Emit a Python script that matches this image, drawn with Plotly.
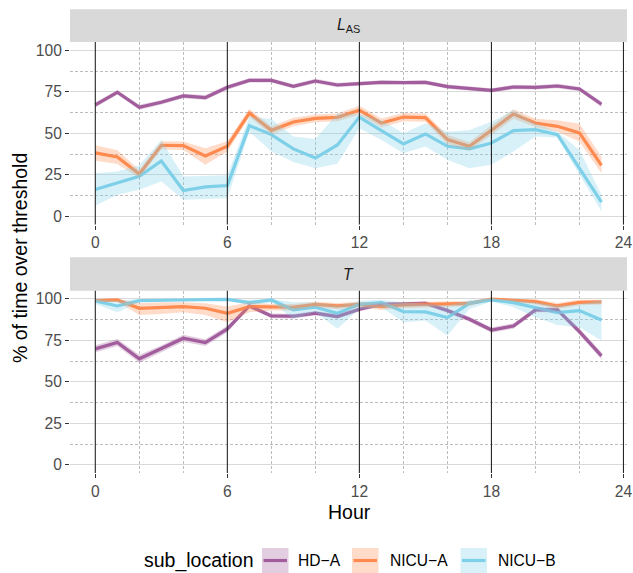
import plotly.graph_objects as go

# ---------------- data ----------------
hours = list(range(24))
series = ["HD-A", "NICU-A", "NICU-B"]
legend_labels = ["HD\u2212A", "NICU\u2212A", "NICU\u2212B"]
line_colors = ["#A15D9C", "#FF8A50", "#7DD0E9"]
fill_colors = ["rgba(161,93,156,0.3)", "rgba(255,138,80,0.3)", "rgba(125,208,233,0.3)"]
panel_labels = ["<i>L</i><sub>AS</sub>", "<i>T</i>"]
x_ticks = [0, 6, 12, 18, 24]
x_minor = [2, 4, 8, 10, 14, 16, 20, 22]
y_ticks = [0, 25, 50, 75, 100]
y_minor = [12.5, 37.5, 62.5, 87.5]
vline_hours = [0, 6, 12, 18, 24]

# L_AS panel
las_hda_mean = [67.1, 74.7, 65.7, 68.7, 72.5, 71.5, 77.7, 81.9, 81.9, 78.3, 81.5, 79.1, 79.9, 80.7, 80.5, 80.7, 78.1, 76.9, 75.9, 77.9, 77.7, 78.5, 76.7, 67.5]
las_hda_lo = [65.6, 73.3, 64.2, 67.3, 71.1, 70.0, 76.3, 80.6, 80.6, 77.0, 80.2, 77.8, 78.7, 79.5, 79.3, 79.5, 76.8, 75.6, 74.6, 76.6, 76.4, 77.2, 75.3, 65.8]
las_hda_hi = [68.6, 76.1, 67.2, 70.1, 73.9, 73.0, 79.1, 83.2, 83.2, 79.6, 82.8, 80.4, 81.1, 81.9, 81.7, 81.9, 79.4, 78.2, 77.2, 79.2, 79.0, 79.8, 78.1, 69.2]

las_nicua_mean = [38.2, 35.7, 25.5, 42.8, 42.6, 36.3, 42.2, 62.2, 51.8, 56.8, 59.0, 59.6, 63.9, 56.2, 59.8, 59.4, 46.2, 42.2, 51.8, 61.6, 56.2, 54.2, 50.2, 30.7]
las_nicua_lo = [33.5, 31.5, 23.0, 40.3, 40.0, 31.0, 39.0, 59.8, 49.3, 54.3, 56.6, 57.2, 61.2, 53.5, 57.3, 56.9, 43.3, 39.7, 48.8, 58.7, 53.7, 51.0, 45.0, 26.0]
las_nicua_hi = [42.8, 39.8, 28.0, 45.2, 45.0, 41.0, 45.2, 64.8, 54.3, 59.3, 61.4, 62.0, 66.6, 58.9, 62.3, 61.9, 49.0, 44.7, 54.8, 64.5, 58.7, 57.8, 55.8, 35.8]

las_nicub_mean = [16.1, 20.1, 24.1, 33.3, 15.5, 17.7, 18.5, 54.6, 49.2, 40.6, 35.1, 43.0, 59.8, 51.6, 43.6, 49.6, 42.2, 40.6, 44.2, 51.6, 52.2, 49.2, 29.1, 8.6]
las_nicub_lo = [6.4, 13.0, 16.0, 21.0, 10.0, 10.6, 10.8, 51.0, 39.0, 32.7, 29.0, 31.7, 53.0, 46.0, 38.0, 42.0, 34.0, 29.0, 31.0, 39.0, 48.0, 47.5, 25.0, 3.0]
las_nicub_hi = [26.0, 27.0, 30.7, 46.0, 24.0, 24.5, 24.7, 60.0, 58.6, 48.0, 46.6, 62.0, 62.0, 58.0, 50.0, 56.0, 51.0, 52.0, 57.0, 64.0, 56.0, 51.0, 40.0, 13.0]

# T panel
t_hda_mean = [69.9, 73.7, 63.9, 69.9, 76.3, 73.7, 81.9, 95.8, 89.8, 89.6, 91.4, 89.4, 93.8, 96.8, 97.0, 97.4, 93.0, 87.8, 81.3, 83.7, 93.4, 93.4, 80.3, 65.7]
t_hda_lo = [67.7, 71.6, 61.5, 67.8, 74.2, 71.7, 79.9, 94.5, 88.4, 88.2, 90.1, 88.0, 92.5, 95.6, 95.8, 96.2, 91.6, 86.3, 79.6, 82.1, 92.0, 92.0, 78.4, 63.6]
t_hda_hi = [72.1, 75.8, 66.3, 72.0, 78.4, 75.7, 83.9, 97.1, 91.2, 91.0, 92.7, 90.8, 95.1, 98.0, 98.2, 98.6, 94.4, 89.3, 83.0, 85.3, 94.8, 94.8, 82.2, 67.8]

t_nicua_mean = [99.0, 99.4, 94.4, 95.0, 95.4, 94.4, 91.4, 95.4, 95.0, 95.0, 96.8, 95.8, 96.8, 95.4, 96.4, 96.8, 96.8, 97.4, 100.0, 99.4, 98.4, 95.8, 98.0, 98.2]
t_nicua_lo = [98.0, 98.4, 90.4, 91.0, 92.0, 90.4, 86.0, 92.0, 93.0, 93.0, 95.0, 93.8, 95.0, 93.4, 94.6, 95.0, 95.0, 95.8, 99.5, 98.4, 96.6, 93.8, 96.2, 96.6]
t_nicua_hi = [100.0, 100.0, 97.4, 98.0, 98.0, 97.4, 95.4, 98.0, 97.0, 97.0, 98.4, 97.6, 98.4, 97.2, 98.0, 98.4, 98.4, 98.8, 100.0, 100.0, 99.8, 97.6, 99.6, 99.6]

t_nicub_mean = [98.8, 95.8, 99.0, 99.4, 99.4, 99.6, 99.8, 97.8, 99.4, 93.4, 95.0, 91.4, 96.8, 97.8, 92.4, 92.2, 88.8, 97.4, 99.4, 97.8, 94.8, 91.8, 93.0, 87.3]
t_nicub_lo = [97.0, 92.0, 98.0, 99.0, 99.0, 99.0, 99.2, 96.0, 98.0, 88.0, 92.0, 82.0, 94.0, 95.0, 86.0, 87.0, 78.0, 94.0, 98.5, 95.0, 89.0, 84.3, 83.0, 75.0]
t_nicub_hi = [100.0, 99.0, 100.0, 100.0, 100.0, 100.0, 100.0, 99.5, 100.0, 98.0, 98.0, 96.0, 99.0, 99.5, 98.0, 97.0, 96.0, 99.5, 100.0, 99.5, 98.0, 96.0, 97.0, 99.4]

panels = [
    [(las_hda_mean, las_hda_lo, las_hda_hi),
     (las_nicua_mean, las_nicua_lo, las_nicua_hi),
     (las_nicub_mean, las_nicub_lo, las_nicub_hi)],
    [(t_hda_mean, t_hda_lo, t_hda_hi),
     (t_nicua_mean, t_nicua_lo, t_nicua_hi),
     (t_nicub_mean, t_nicub_lo, t_nicub_hi)],
]

# ---------------- layout geometry (pixels) ----------------
W_FIG, H_FIG = 633, 573
M_L, M_R, M_T, M_B = 70, 6, 42, 100
PW = W_FIG - M_L - M_R
PH = H_FIG - M_T - M_B
PLOT_BOTTOM = H_FIG - M_B


def px_x(px):
    return (px - M_L) / PW


def px_y(py):
    return (PLOT_BOTTOM - py) / PH


FONT = "Liberation Sans, Arial, sans-serif"
TICK_FONT = dict(family=FONT, size=15.6, color="#4D4D4D")

fig = go.Figure()

axis_names = [("x", "y"), ("x2", "y2")]
for p, (xa, ya) in enumerate(axis_names):
    # lines first
    for s in range(3):
        mean, lo, hi = panels[p][s]
        fig.add_trace(go.Scatter(
            x=hours, y=mean, mode="lines", xaxis=xa, yaxis=ya,
            line=dict(color=line_colors[s], width=3.2),
            showlegend=False, hoverinfo="skip"))
    # ribbons on top
    for s in range(3):
        mean, lo, hi = panels[p][s]
        fig.add_trace(go.Scatter(
            x=hours + hours[::-1], y=hi + lo[::-1], mode="lines",
            xaxis=xa, yaxis=ya, fill="toself", fillcolor=fill_colors[s],
            line=dict(width=0, color="rgba(0,0,0,0)"),
            showlegend=False, hoverinfo="skip"))

xaxis_common = dict(
    range=[-1.15, 24.16], tickmode="array", tickvals=x_ticks,
    showgrid=False, zeroline=False, showline=False,
    ticks="outside", ticklen=4, tickwidth=1.1, tickcolor="#333333",
    tickfont=TICK_FONT,
    minor=dict(tickmode="array", tickvals=x_minor, showgrid=True,
               gridcolor="#BDBDBD", gridwidth=0.7, griddash="3px,2px", ticks=""),
)
yaxis_common = dict(
    range=[-5, 105], tickmode="array", tickvals=y_ticks,
    showgrid=True, gridcolor="#D9D9D9", gridwidth=1.2,
    zeroline=False, showline=False,
    ticks="outside", ticklen=4, tickwidth=1.1, tickcolor="#333333",
    tickfont=TICK_FONT,
    minor=dict(tickmode="array", tickvals=y_minor, showgrid=True,
               gridcolor="#BDBDBD", gridwidth=0.7, griddash="3px,2px", ticks=""),
)

top_lo = px_y(42 + 182.6)
bot_hi = px_y(473 - 182.3)

fig.update_layout(
    width=W_FIG, height=H_FIG,
    margin=dict(l=M_L, r=M_R, t=M_T, b=M_B, autoexpand=False),
    paper_bgcolor="white", plot_bgcolor="white",
    font=dict(family=FONT, color="black"),
    showlegend=False,
    xaxis=dict(domain=[0, 1], anchor="y", **xaxis_common),
    yaxis=dict(domain=[top_lo, 1], anchor="x", **yaxis_common),
    xaxis2=dict(domain=[0, 1], anchor="y2", **xaxis_common),
    yaxis2=dict(domain=[0, bot_hi], anchor="x2", **yaxis_common),
)

shapes = []
# reference vertical lines
for xr, yr in [("x", "y domain"), ("x2", "y2 domain")]:
    for h in vline_hours:
        shapes.append(dict(type="line", xref=xr, yref=yr, x0=h, x1=h, y0=0, y1=1,
                           line=dict(color="#262626", width=1.1), layer="above"))

# strips
strip_boxes = [(9.3, 42), (257.3, 290.7)]
annotations = []
for (t0, t1), lab in zip(strip_boxes, panel_labels):
    shapes.append(dict(type="rect", xref="paper", yref="paper",
                       x0=0, x1=1, y0=px_y(t1), y1=px_y(t0),
                       fillcolor="#D9D9D9", line=dict(width=0), layer="below"))
    annotations.append(dict(xref="paper", yref="paper", x=0.5, y=px_y((t0 + t1) / 2),
                            text=lab, showarrow=False, xanchor="center", yanchor="middle",
                            font=dict(family=FONT, size=15.6, color="#1A1A1A")))

# axis titles
annotations.append(dict(xref="paper", yref="paper", x=px_x(349), y=px_y(512),
                        text="Hour", showarrow=False, xanchor="center", yanchor="middle",
                        font=dict(family=FONT, size=19.5, color="black")))
annotations.append(dict(xref="paper", yref="paper", x=px_x(20), y=px_y(258),
                        text="% of time over threshold", showarrow=False, textangle=-90,
                        xanchor="center", yanchor="middle",
                        font=dict(family=FONT, size=19.5, color="black")))

# manual legend
LEG_Y = 560.5
annotations.append(dict(xref="paper", yref="paper", x=px_x(142), y=px_y(LEG_Y),
                        text="sub_location", showarrow=False, xanchor="left", yanchor="middle",
                        font=dict(family=FONT, size=19.5, color="black")))
box_left = [262, 352, 460.5]
label_left = [296, 388, 496]
for i in range(3):
    x0, x1 = box_left[i], box_left[i] + 26.5
    shapes.append(dict(type="rect", xref="paper", yref="paper",
                       x0=px_x(x0), x1=px_x(x1), y0=px_y(573), y1=px_y(548),
                       fillcolor=fill_colors[i], line=dict(width=0)))
    shapes.append(dict(type="line", xref="paper", yref="paper",
                       x0=px_x(x0 + 1.5), x1=px_x(x1 - 1.5), y0=px_y(LEG_Y), y1=px_y(LEG_Y),
                       line=dict(color=line_colors[i], width=3.2)))
    annotations.append(dict(xref="paper", yref="paper", x=px_x(label_left[i]), y=px_y(LEG_Y),
                            text=legend_labels[i], showarrow=False, xanchor="left",
                            yanchor="middle",
                            font=dict(family=FONT, size=15.6, color="black")))

fig.update_layout(shapes=shapes, annotations=annotations)
fig.write_html(
    "out.html",
    config={"displayModeBar": False},
    post_script="document.body.style.margin='0';document.body.style.overflow='hidden';",
)
